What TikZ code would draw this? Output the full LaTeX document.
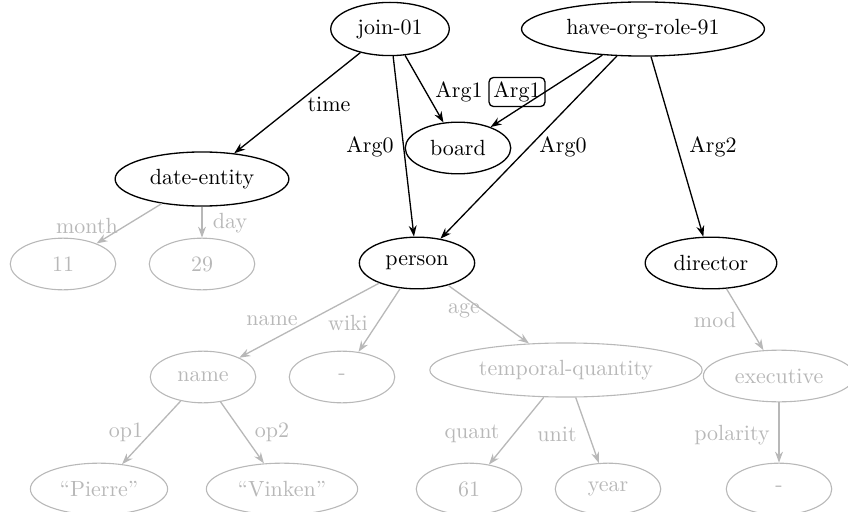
\documentclass[tikz,border=0pt]{standalone}
\usetikzlibrary{arrows.meta,shapes.geometric}

\definecolor{faded}{RGB}{184,184,184}

\begin{document}
\begin{tikzpicture}[
    x=0.455pt, y=-0.455pt,
    concept/.style={
      ellipse,
      draw,
      line width=0.6pt,
      inner sep=4.2pt,
      minimum width=48pt,
      minimum height=23.5pt
    },
    ghost/.style={concept, draw=faded, text=faded, line width=0.5pt},
    rel/.style={-{Stealth[length=5pt,width=3.6pt]}, line width=0.6pt},
    ghostrel/.style={rel, draw=faded},
    role/.style={inner sep=1pt},
    ghostrole/.style={role, text=faded}
  ]
  \useasboundingbox (0,0) rectangle (848,512);

  % top level
  \node[concept] (join) at (390,29) {join-01};
  \node[concept] (haveorg) at (643,29) {have-org-role-91};
  \node[concept] (board) at (458,148) {board};
  \node[concept] (date) at (202,179) {date-entity};
  \node[concept] (person) at (417,263) {person};
  \node[concept] (director) at (711,263) {director};

  % faded part
  \node[ghost] (month) at (63,264) {11};
  \node[ghost] (day) at (202,264) {29};
  \node[ghost] (name) at (203,377) {name};
  \node[ghost] (wiki) at (342,377) {-};
  \node[ghost] (tq) at (566,370) {temporal-quantity};
  \node[ghost] (exec) at (779,376) {executive};
  \node[ghost] (pierre) at (99,489) {``Pierre''};
  \node[ghost] (vinken) at (282,489) {``Vinken''};
  \node[ghost] (quant) at (469,489) {61};
  \node[ghost] (unit) at (608,489) {year};
  \node[ghost] (polar) at (779,489) {-};

  % edges
  \draw[rel] (join) -- (date);
  \draw[rel] (join) -- (person);
  \draw[rel] (join) -- (board);
  \draw[rel] (haveorg) -- (board);
  \draw[rel] (haveorg) -- (person);
  \draw[rel] (haveorg) -- (director);

  \draw[ghostrel] (date) -- (month);
  \draw[ghostrel] (date) -- (day);
  \draw[ghostrel] (person) -- (name);
  \draw[ghostrel] (person) -- (wiki);
  \draw[ghostrel] (person) -- (tq);
  \draw[ghostrel] (director) -- (exec);
  \draw[ghostrel] (name) -- (pierre);
  \draw[ghostrel] (name) -- (vinken);
  \draw[ghostrel] (tq) -- (quant);
  \draw[ghostrel] (tq) -- (unit);
  \draw[ghostrel] (exec) -- (polar);

  % edge labels
  \node[role] (lTime) at (329,104) {time};
  \node[role] (lArgA) at (370,147) {Arg0};
  \node[role] (lArgB) at (459,92) {Arg1};
  \node[
    draw,
    rounded corners=2pt,
    line width=0.6pt,
    inner sep=2pt
  ] (lArgC) at (517,92) {Arg1};
  \node[role] (lArgD) at (563,147) {Arg0};
  \node[role] (lArgE) at (713,147) {Arg2};

  \node[ghostrole] (lMonth) at (87,226) {month};
  \node[ghostrole] (lDay) at (230,223) {day};
  \node[ghostrole] (lName) at (272,321) {name};
  \node[ghostrole] (lWiki) at (348,323) {wiki};
  \node[ghostrole] (lAge) at (464,311) {age};
  \node[ghostrole] (lMod) at (715,320) {mod};
  \node[ghostrole] (lOpA) at (126,432) {op1};
  \node[ghostrole] (lOpB) at (272,432) {op2};
  \node[ghostrole] (lQuant) at (472,434) {quant};
  \node[ghostrole] (lUnit) at (557,434) {unit};
  \node[ghostrole] (lPolar) at (732,435) {polarity};
\end{tikzpicture}
\end{document}
